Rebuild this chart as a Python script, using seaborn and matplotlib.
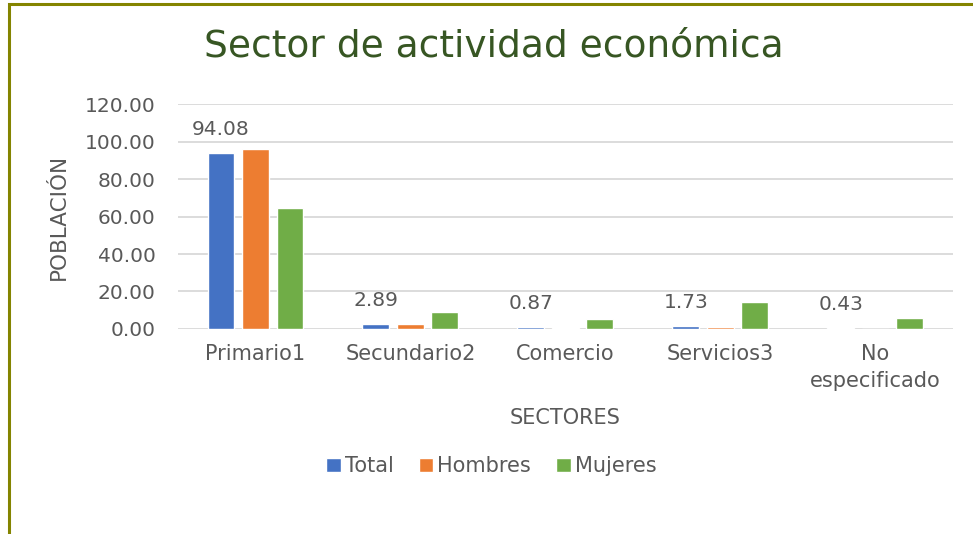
import pandas as pd
import numpy as np
import matplotlib.pyplot as plt
import seaborn as sns
from matplotlib.patches import Rectangle

# values
sectores = ['Primario1', 'Secundario2', 'Comercio', 'Servicios3', 'No\nespecificado']
series = ['Total', 'Hombres', 'Mujeres']
total = [94.08, 2.89, 0.87, 1.73, 0.43]
hombres = [95.8, 2.4, 0.3, 1.0, 0.0]
mujeres = [64.7, 8.9, 5.5, 14.6, 5.6]
colores = ['#4472C4', '#ED7D31', '#70AD47']
y_ticks = [0, 20, 40, 60, 80, 100, 120]

gris = '#595959'

def build_frame():
    rows = []
    for name, vals in zip(series, [total, hombres, mujeres]):
        for s, v in zip(sectores, vals):
            rows.append({'sector': s, 'serie': name, 'valor': v})
    return pd.DataFrame(rows)

def main():
    df = build_frame()
    sns.set_theme(style='white')
    plt.rcParams['font.family'] = ['DejaVu Sans']

    fig = plt.figure(figsize=(9.73, 5.34), dpi=100)
    ax = fig.add_axes([0.183, 0.384, 0.796, 0.421])

    sns.barplot(data=df, x='sector', y='valor', hue='serie', order=sectores,
                hue_order=series, palette=colores, width=0.668, gap=0.22,
                saturation=1, ax=ax, legend=True)

    # labels only on the Total series
    ax.bar_label(ax.containers[0], labels=[f'{v:.2f}' for v in total],
                 padding=10, fontsize=14.5, color=gris)

    ax.set_ylim(0, 120)
    ax.set_yticks(y_ticks)
    ax.set_yticklabels([f'{t:.2f}' for t in y_ticks], fontsize=14.5, color=gris)
    ax.tick_params(axis='x', labelsize=15, labelcolor=gris, length=0, pad=11)
    ax.tick_params(axis='y', length=0, pad=16)
    for lbl in ax.get_xticklabels():
        lbl.set_verticalalignment('top')
        lbl.set_linespacing(1.45)
    ax.yaxis.grid(True, color='#D9D9D9', linewidth=1.3)
    ax.set_axisbelow(True)
    for sp in ax.spines.values():
        sp.set_visible(False)

    ax.set_xlabel('SECTORES', fontsize=15, color=gris, labelpad=12)
    ax.set_ylabel('POBLACIÓN', fontsize=15.5, color=gris, labelpad=12)

    fig.text(0.508, 0.912, 'Sector de actividad económica', ha='center', va='center',
             fontsize=27, color='#375623')

    handles, labels = ax.get_legend_handles_labels()
    ax.legend(handles, labels, loc='center', bbox_to_anchor=(0.505, 0.127),
              bbox_transform=fig.transFigure, ncol=3, frameon=False,
              fontsize=15, labelcolor=gris, handlelength=0.7, handleheight=0.7,
              handletextpad=0.2, columnspacing=1.2)

    # olive frame on top and left edges
    fig.patches.append(Rectangle((0.009, -0.1), 1.2, 1.092, transform=fig.transFigure,
                                 fill=False, edgecolor='#848400', linewidth=2.2))

    fig.savefig('out.png', dpi=100)
    plt.close(fig)

if __name__ == '__main__':
    main()
